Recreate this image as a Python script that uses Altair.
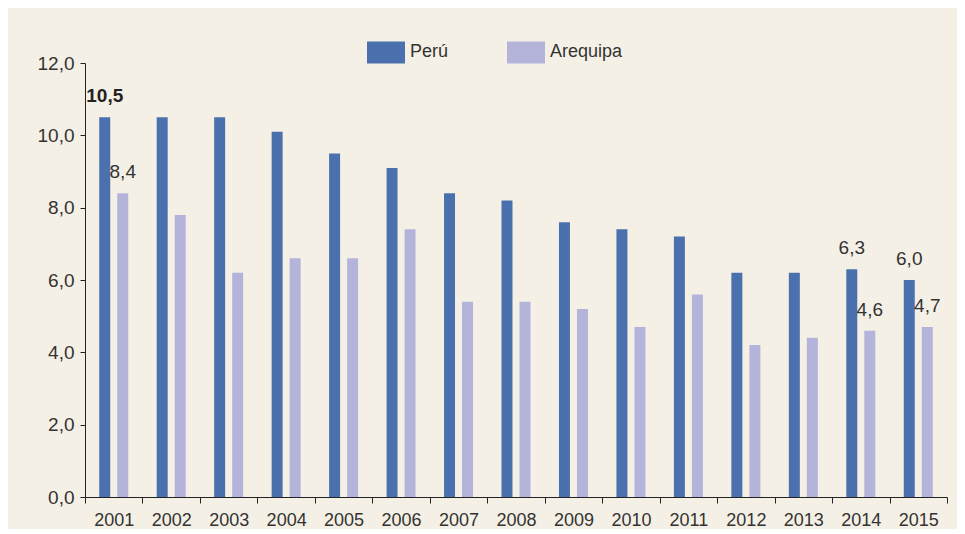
import altair as alt
import pandas as pd

years = [str(y) for y in range(2001, 2016)]
peru = [10.5, 10.5, 10.5, 10.1, 9.5, 9.1, 8.4, 8.2, 7.6, 7.4, 7.2, 6.2, 6.2, 6.3, 6.0]
arequipa = [8.4, 7.8, 6.2, 6.6, 6.6, 7.4, 5.4, 5.4, 5.2, 4.7, 5.6, 4.2, 4.4, 4.6, 4.7]
series = ["Perú", "Arequipa"]
colors = ["#4a70ae", "#b4b4da"]
label_years = ["2001", "2014", "2015"]
y_ticks = [0, 2, 4, 6, 8, 10, 12]

rows = []
for i, y in enumerate(years):
    rows.append({"year": y, "serie": "Perú", "valor": peru[i]})
    rows.append({"year": y, "serie": "Arequipa", "valor": arequipa[i]})
df = pd.DataFrame(rows)
df["etiqueta"] = [
    f"{v:.1f}".replace(".", ",") if yr in label_years else ""
    for v, yr in zip(df["valor"], df["year"])
]
df["negrita"] = (df["year"] == "2001") & (df["serie"] == "Perú")

FONT = "Liberation Sans, Arial"
TXT = "#333333"

x = alt.X(
    "year:N",
    sort=years,
    scale=alt.Scale(paddingInner=0, paddingOuter=0),
    axis=alt.Axis(
        title=None, labelAngle=0, tickBand="extent", tickSize=6, tickColor="#222",
        domainColor="#222", labelFont=FONT, labelFontSize=18, labelColor=TXT,
        labelPadding=8, grid=False,
    ),
)
xoff = alt.XOffset("serie:N", sort=series, scale=alt.Scale(paddingInner=0.39, paddingOuter=0.79))
y = alt.Y(
    "valor:Q",
    scale=alt.Scale(domain=[0, 12], nice=False),
    axis=alt.Axis(
        title=None, values=y_ticks, labelExpr="replace(format(datum.value, '.1f'), '.', ',')",
        tickSize=5, tickColor="#222", domainColor="#222", labelFont=FONT,
        labelFontSize=19, labelColor=TXT, labelPadding=6, grid=False,
    ),
)
color = alt.Color(
    "serie:N",
    sort=series,
    scale=alt.Scale(domain=series, range=colors),
    legend=alt.Legend(
        title=None, orient="none", legendX=282, legendY=-30, direction="horizontal",
        symbolType="M-1,-0.58H1V0.58H-1Z", symbolSize=1444, symbolStrokeWidth=0,
        symbolOpacity=1, labelFont=FONT, labelFontSize=18, labelColor=TXT,
        labelOffset=5, columnPadding=58,
    ),
)

base = alt.Chart(df)
bars = base.mark_bar().encode(x=x, xOffset=xoff, y=y, color=color)
labels = base.transform_filter("datum.etiqueta != '' && !datum.negrita").mark_text(
    baseline="bottom", dy=-11, font=FONT, fontSize=19, color=TXT
).encode(x=x, xOffset=xoff, y=y, text="etiqueta:N")
labels_bold = base.transform_filter("datum.negrita").mark_text(
    baseline="bottom", dy=-11, font=FONT, fontSize=19, fontWeight="bold", color="#222"
).encode(x=x, xOffset=xoff, y=y, text="etiqueta:N")

chart = (
    alt.layer(bars, labels, labels_bold)
    .properties(
        width=862, height=434,
        autosize=alt.AutoSizeParams(type="none"),
        padding={"left": 77, "top": 55, "right": 10, "bottom": 32},
        background="#f5f0e6",
    )
    .configure_view(stroke=None)
)

chart.save("out.html", embed_options={"renderer": "svg", "actions": False})
